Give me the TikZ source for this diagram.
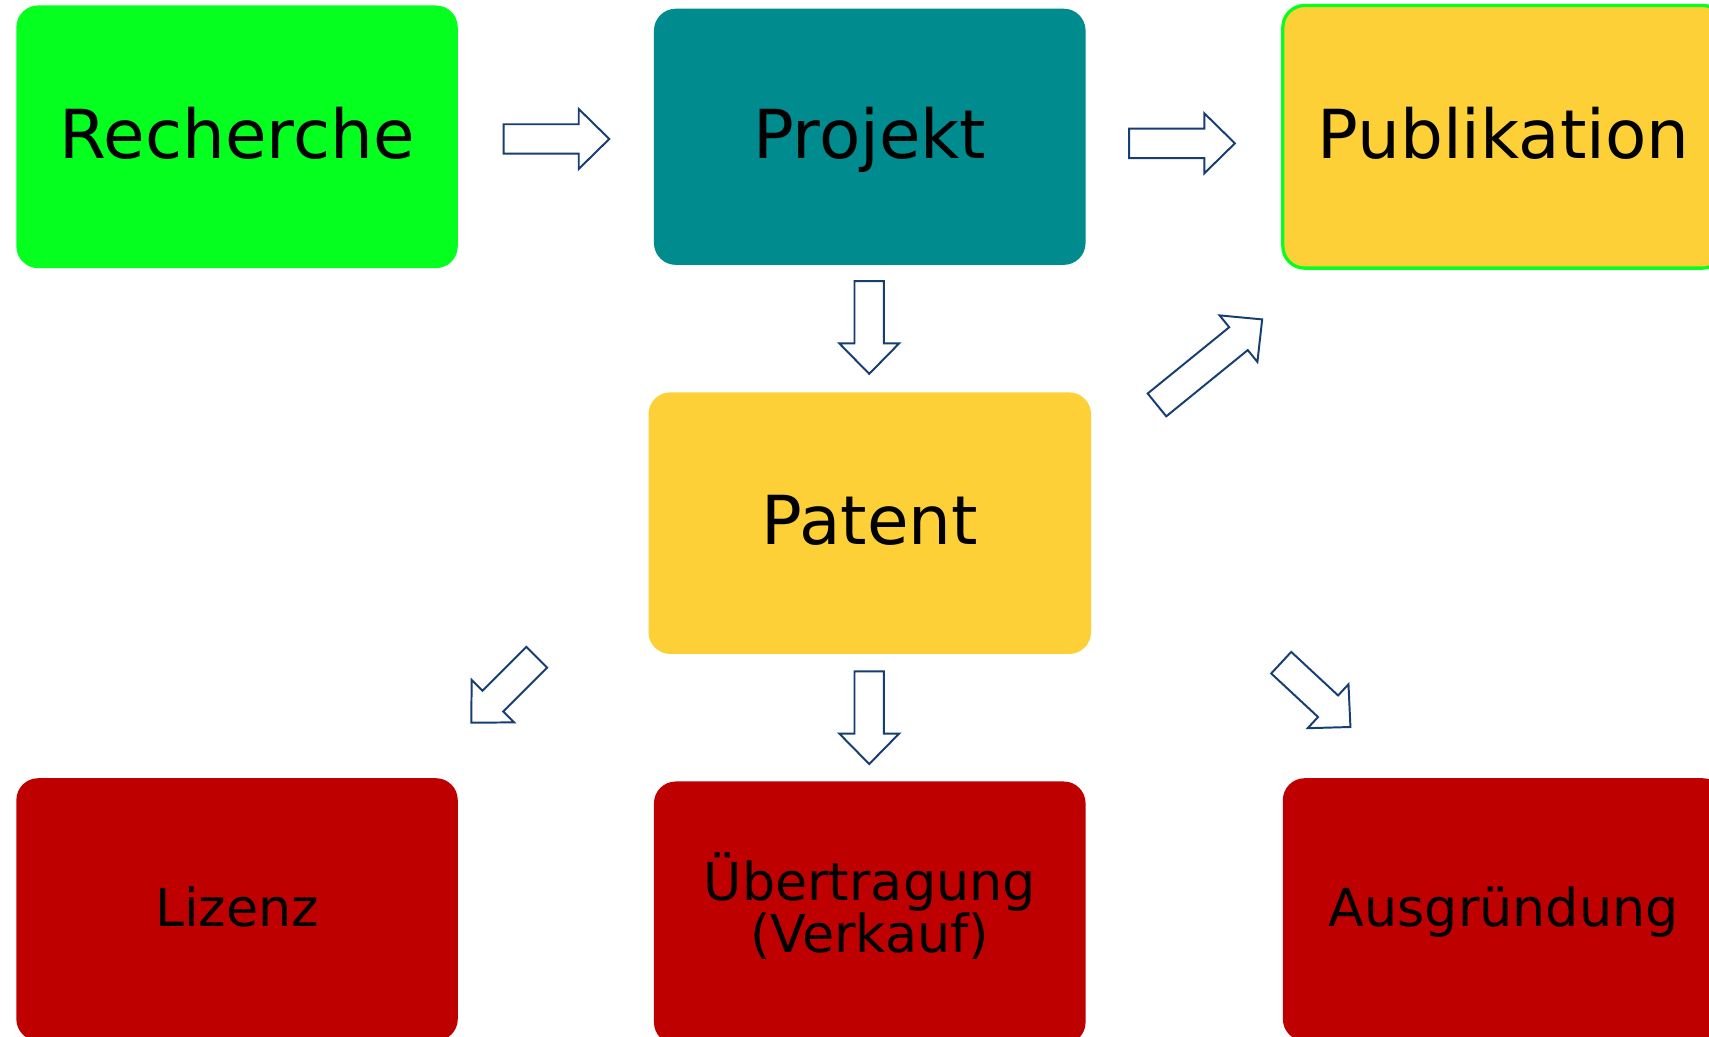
\documentclass[tikz,border=0pt]{standalone}
\usepackage{fontspec}
\setmainfont{DejaVu Sans}
\definecolor{boxgreen}{RGB}{5,255,30}
\definecolor{boxteal}{RGB}{0,139,143}
\definecolor{boxyellow}{RGB}{252,208,54}
\definecolor{boxred}{RGB}{190,0,0}
\definecolor{arrowblue}{RGB}{23,62,115}
\newcommand\blockarrow[3]{%
  \begin{scope}[shift={(#1)},rotate=#2]
    \draw[barrowstyle] (0,-13.5) -- ({#3-28},-13.5) -- ({#3-28},-27.5) -- (#3,0)
      -- ({#3-28},27.5) -- ({#3-28},13.5) -- (0,13.5) -- cycle;
  \end{scope}}
\begin{document}
\begin{tikzpicture}[x=1pt,y=1pt,
  box/.style={rectangle, rounded corners=20pt, inner sep=0pt, minimum width=405pt, minimum height=241pt, text=black},
  big/.style={font=\fontsize{62}{70}\selectfont, text height=39pt, text depth=0pt},
  small/.style={font=\fontsize{48}{46}\selectfont, text height=31pt, text depth=0pt},
  barrowstyle/.style={draw=arrowblue, fill=white, line width=1.8pt, line join=miter}]
\useasboundingbox (0,0) rectangle (1568,-951);
\clip (0,0) rectangle (1568,-951);
\fill[white] (0,0) rectangle (1568,-951);

\node[box, big, fill=boxgreen] (recherche) at (217.5,-125.5) {Recherche};
\node[box, big, fill=boxteal, minimum width=396pt, minimum height=235pt] (projekt) at (798,-125.5) {Projekt};
\node[box, big, fill=boxyellow, draw=boxgreen, line width=3pt] (publikation) at (1379.5,-125.5) {Publikation};
\node[box, big, fill=boxyellow, minimum width=406pt, minimum height=240pt] (patent) at (798,-480) {Patent};
\node[box, small, fill=boxred] (lizenz) at (217.5,-834.5) {Lizenz};
\node[box, fill=boxred, minimum width=396pt] (uebertragung) at (798,-837.5) {};
\node[align=center, font=\fontsize{48}{46}\selectfont, inner sep=0pt] (uebertext) at ([yshift=6pt]uebertragung.center) {Übertragung\\(Verkauf)};
\node[box, small, fill=boxred] (ausgruendung) at (1379.5,-834.5) {Ausgründung};

\coordinate (a1) at (462,-127.5);
\coordinate (a2) at (1036,-131.5);
\coordinate (a3) at (797.5,-258);
\coordinate (a4) at (1061.5,-371.5);
\coordinate (a5) at (492.5,-603);
\coordinate (a6) at (797.5,-616);
\coordinate (a7) at (1175.5,-608);

\blockarrow{a1}{0}{97}
\blockarrow{a2}{0}{97}
\blockarrow{a3}{-90}{85}
\blockarrow{a4}{39.1}{124.4}
\blockarrow{a5}{225}{85}
\blockarrow{a6}{-90}{85}
\blockarrow{a7}{-42.9}{86.7}
\end{tikzpicture}
\end{document}
